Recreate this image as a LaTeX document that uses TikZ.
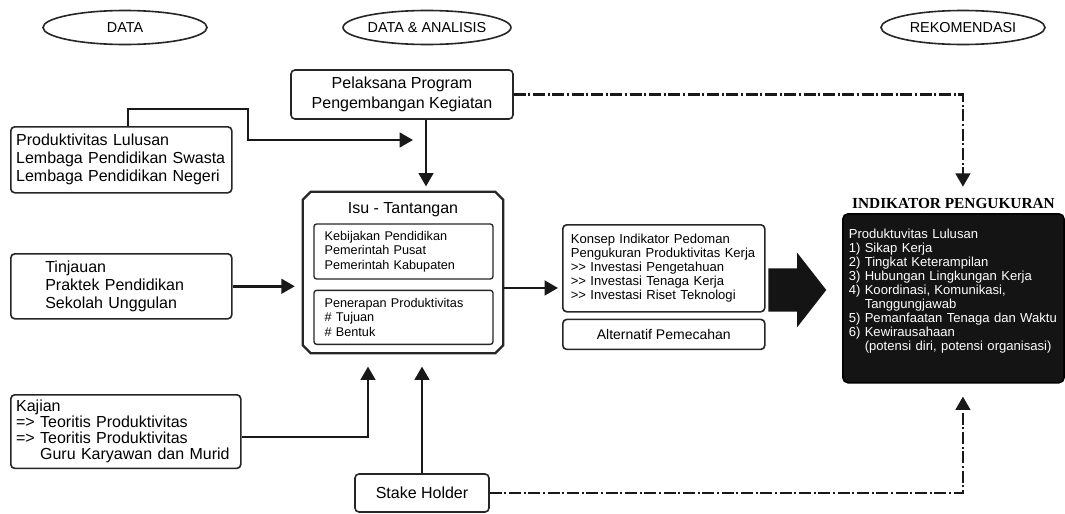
\documentclass[tikz,border=0pt]{standalone}
\usepackage{fontspec}
\setmainfont{Liberation Sans}
\newfontfamily\titlefont{Liberation Serif}
\usetikzlibrary{arrows.meta,positioning,shapes.geometric,shapes.arrows}
\tikzset{
  box/.style={draw=black!85, line width=1.2pt, rounded corners=3pt, fill=white, inner sep=4pt},
  leftbox/.style={box, align=left, text width=157.75pt},
  innerbox/.style={box, line width=1pt, rounded corners=2pt, align=left, inner xsep=8pt,
    text width=118.25pt, font=\fontsize{9.5}{10.9}\selectfont},
  infobox/.style={box, align=left, inner xsep=6pt, text width=139.5pt,
    font=\fontsize{9.8}{10.5}\selectfont},
  indbox/.style={box, draw=black, fill=black!92, text=white, align=left, inner xsep=4.5pt,
    text width=157pt, minimum height=126.75pt, rounded corners=4pt,
    font=\fontsize{9.8}{10.5}\selectfont},
  tag/.style={draw=black!85, line width=1.2pt, ellipse, minimum width=123pt,
    minimum height=25.5pt, inner sep=0pt, font=\fontsize{10.8}{12}\selectfont},
  isubox/.style={minimum width=150pt, minimum height=120.75pt, inner sep=0pt},
  isuline/.style={draw=black!85, line width=1.8pt},
  bigarr/.style={single arrow, fill=black!92, inner xsep=0pt, inner ysep=16.1pt,
    minimum height=43.5pt, single arrow head extend=11.6pt, single arrow tip angle=104},
  arr/.style={-{Triangle[length=10pt,width=11pt]}, line width=1.8pt, draw=black!90},
  darr/.style={arr, dash pattern=on 9pt off 2pt on 1.5pt off 2pt}
}
\begin{document}
\begin{tikzpicture}[x=0.75pt, y=-0.75pt, font=\fontsize{12}{13.5}\selectfont]
  \useasboundingbox[fill=white] (0,0) rectangle (1065,514);

  % headings
  \node[tag] (tdata) at (125,27.5) {DATA};
  \node[tag] (tanal) at (427,27.5) {DATA \& ANALISIS};
  \node[tag] (trek) at (963,27.5) {REKOMENDASI};

  % data
  \node[leftbox, minimum height=49.5pt, anchor=north west] (prod) at (10,126)
    {Produktivitas Lulusan\\Lembaga Pendidikan Swasta\\Lembaga Pendidikan Negeri};
  \node[leftbox, text width=114pt, minimum width=165.75pt, minimum height=48.75pt,
    anchor=north west] (tin) at (10,253)
    {Tinjauan\\Praktek Pendidikan\\Sekolah Unggulan};
  \node[leftbox, text width=164.5pt, minimum height=54.75pt, font=\fontsize{12}{12}\selectfont,
    anchor=north west] (kaj) at (10,394)
    {Kajian\\=> Teoritis Produktivitas\\=> Teoritis Produktivitas\\\hphantom{=>} Guru Karyawan dan Murid};

  % data & analisis
  \node[box, minimum width=166.5pt, minimum height=36.75pt, align=center,
    font=\fontsize{12}{15}\selectfont] (pel) at (402,94.5)
    {Pelaksana Program\\Pengembangan Kegiatan};
  \node[isubox] (isu) at (403,272.5) {};
  \draw[isuline] ([xshift=6pt]isu.north west) -- ([xshift=-6pt]isu.north east)
    -- ([yshift=-6pt]isu.north east) -- ([yshift=6pt]isu.south east)
    -- ([xshift=-6pt]isu.south east) -- ([xshift=6pt]isu.south west)
    -- ([yshift=6pt]isu.south west) -- ([yshift=-6pt]isu.north west) -- cycle;
  \node (isuttl) at (403,210) {Isu - Tantangan};
  \node[innerbox, minimum height=41.25pt] (kebi) at (403.5,251.5)
    {Kebijakan Pendidikan\\Pemerintah Pusat\\Pemerintah Kabupaten};
  \node[innerbox, minimum height=40.5pt, below=7.5pt of kebi] (pene)
    {Penerapan Produktivitas\\\# Tujuan\\\# Bentuk};
  \node[infobox, minimum height=65.25pt, anchor=north west] (kon) at (562,224)
    {Konsep Indikator Pedoman\\Pengukuran Produktivitas Kerja\\>{}> Investasi Pengetahuan\\>{}> Investasi Tenaga Kerja\\>{}> Investasi Riset Teknologi};
  \node[box, below=4.5pt of kon, minimum width=151.5pt, minimum height=22.5pt,
    font=\fontsize{10.5}{12}\selectfont] (alt) {Alternatif Pemecahan};
  \node[bigarr, anchor=tail] (big) at (768,290) {};
  \node[box, minimum width=100.5pt, minimum height=28.5pt] (stake) at (422,493) {Stake Holder};

  % rekomendasi
  \node[indbox, anchor=north west] (ind) at (842,213)
    {Produktuvitas Lulusan\\1) Sikap Kerja\\2) Tingkat Keterampilan\\3) Hubungan Lingkungan Kerja\\4) Koordinasi, Komunikasi,\\\hphantom{4)} Tanggungjawab\\5) Pemanfaatan Tenaga dan Waktu\\6) Kewirausahaan\\\hphantom{6)} (potensi diri, potensi organisasi)\\[3pt]\mbox{}};
  \node[inner sep=0pt, above=3pt of ind, font=\fontsize{11.5}{13}\selectfont\titlefont\bfseries] (ttl)
    {INDIKATOR PENGUKURAN};

  \coordinate (bend) at (248,109);
  \coordinate (join) at (413,140);

  \draw[arr] ([xshift=5pt]prod.north) |- (bend) |- (join);
  \draw[arr, shorten >=4pt] ([xshift=18pt]pel.south) -- ([xshift=18pt]pel.south |- isu.north);
  \draw[arr, shorten >=6pt] (tin.east) -- (tin.east -| isu.west);
  \draw[arr, shorten >=3pt] ([yshift=-11.6pt]isu.east) -- ([yshift=-11.6pt]isu.east -| kon.west);
  \draw[arr, shorten >=10pt] ([yshift=-4pt]kaj.east) -| ([xshift=-26.25pt]isu.south);
  \draw[arr, shorten >=10pt] (stake.north) -- (stake.north |- isu.south);
  \draw[darr, shorten >=8.6pt] (pel.east) -| ([xshift=7.1pt]ttl.north);
  \draw[darr, shorten >=9.75pt] (stake.east) -| ([xshift=7.1pt]ind.south);
\end{tikzpicture}
\end{document}
